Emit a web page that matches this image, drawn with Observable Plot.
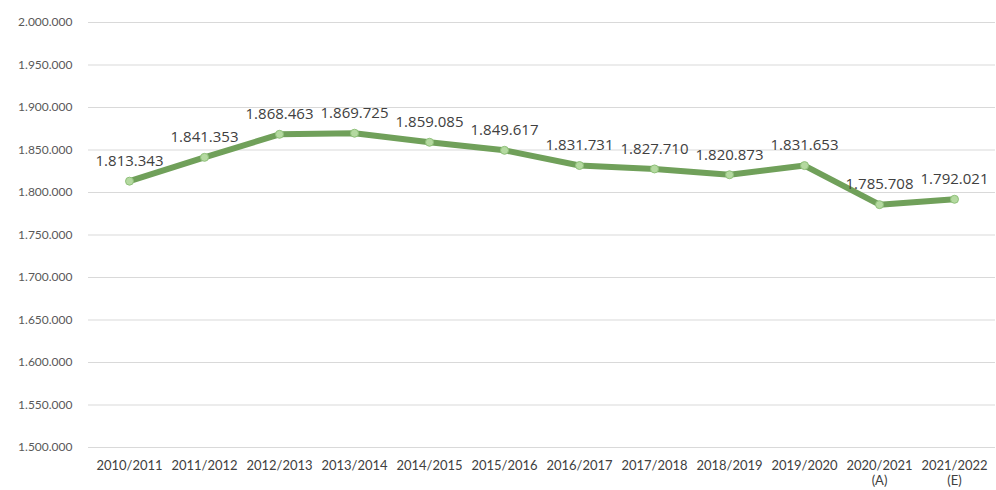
<!DOCTYPE html>
<html><head><meta charset="utf-8">
<script src="https://cdn.jsdelivr.net/npm/d3@7"></script>
<script src="https://cdn.jsdelivr.net/npm/@observablehq/plot@0.6"></script>
<style>body{margin:0;background:#fff}</style>
</head><body><div id="chart"></div>
<script>
const seasons = ["2010/2011","2011/2012","2012/2013","2013/2014","2014/2015","2015/2016","2016/2017","2017/2018","2018/2019","2019/2020","2020/2021","2021/2022"];
const seasonNotes = ["","","","","","","","","","","(A)","(E)"];
const students = [1813343,1841353,1868463,1869725,1859085,1849617,1831731,1827710,1820873,1831653,1785708,1792021];
const yTicks = [1500000,1550000,1600000,1650000,1700000,1750000,1800000,1850000,1900000,1950000,2000000];

const loc = d3.formatLocale({decimal:",", thousands:".", grouping:[3], currency:["",""]});
const fmt = loc.format(",d");
const data = seasons.map((s,i)=>({season:s, value:students[i]}));
const labelOf = Object.fromEntries(seasons.map((s,i)=>[s, seasonNotes[i] ? s + "\n" + seasonNotes[i] : s]));

const chart = Plot.plot({
  width: 996, height: 490,
  marginTop: 22, marginBottom: 43, marginLeft: 88, marginRight: 1,
  style: {fontFamily: "Lato, sans-serif", fontSize: "12px", color: "#595959", background: "#fff"},
  x: {type: "point", domain: seasons, padding: 0.5, label: null},
  y: {domain: [1500000, 2000000], label: null},
  marks: [
    Plot.gridY(yTicks, {stroke: "#d9d9d9", strokeOpacity: 1, strokeWidth: 1}),
    Plot.axisY({ticks: yTicks, tickSize: 0, tickPadding: 16, tickFormat: fmt, label: null, fill: "#595959", fontSize: 12}),
    Plot.axisX({tickSize: 0, tickPadding: 11, tickFormat: d => labelOf[d], label: null, fill: "#404040", fontSize: 13, lineHeight: 1.2}),
    Plot.line(data, {x: "season", y: "value", stroke: "#70a05a", strokeWidth: 6, strokeLinejoin: "round", strokeLinecap: "round"}),
    Plot.dot(data, {x: "season", y: "value", r: 4, fill: "#b4d9a0", stroke: "#8fc07a", strokeWidth: 1}),
    Plot.text(data, {x: "season", y: "value", text: d => fmt(d.value), dy: -20, fontSize: 15, fill: "#404040", fontFamily: "'Open Sans', sans-serif"})
  ]
});
document.getElementById("chart").append(chart);
</script></body></html>
